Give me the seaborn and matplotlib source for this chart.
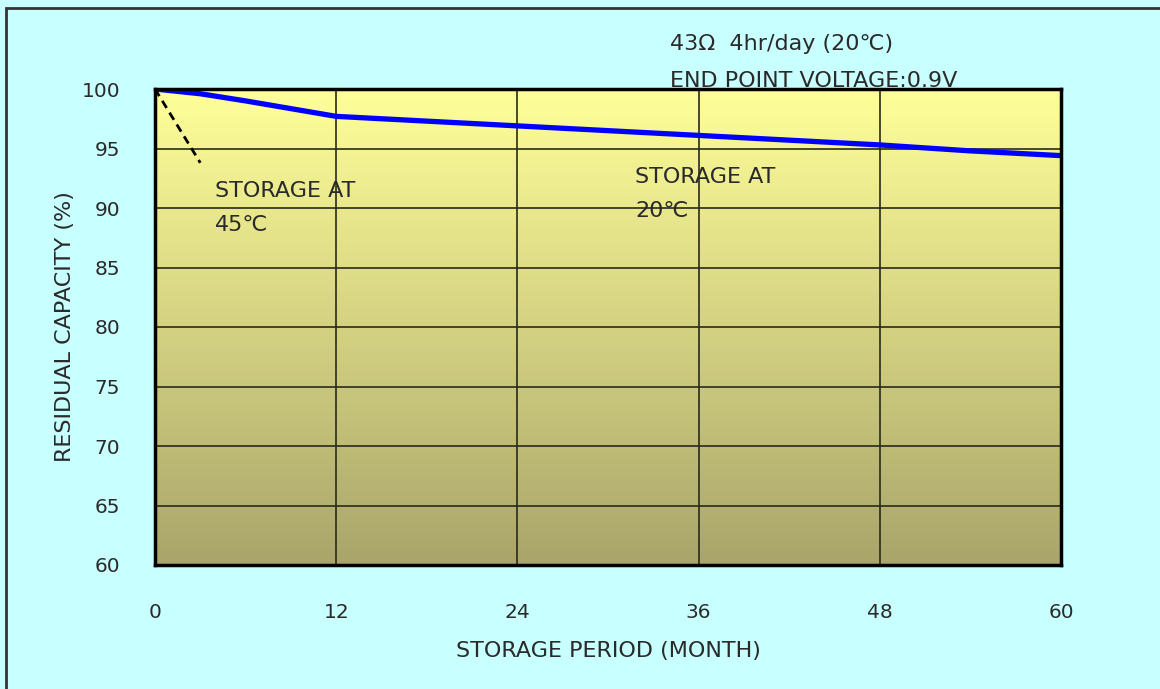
import numpy as np
import pandas as pd
import matplotlib
matplotlib.use("Agg")
import matplotlib.pyplot as plt
import matplotlib.patches as mpatches
from matplotlib.colors import LinearSegmentedColormap
import seaborn as sns

# ---------------- data ----------------
months_20c = [0, 3, 6, 12, 18, 24, 30, 36, 42, 48, 54, 60]
capacity_20c = [100, 99.6, 99.0, 97.7, 97.3, 96.9, 96.5, 96.1, 95.7, 95.3, 94.8, 94.4]
months_45c = [0, 3]
capacity_45c = [100, 93.8]
x_ticks = [0, 12, 24, 36, 48, 60]
y_ticks = [60, 65, 70, 75, 80, 85, 90, 95, 100]

sns.set_style("white")
plt.rcParams["font.family"] = ["DejaVu Sans"]

BG = "#C8FFFF"
TXT = "#2a2a2a"
fig = plt.figure(figsize=(11.6, 6.89), dpi=100, facecolor=BG)
ax = fig.add_axes([155 / 1160, 1 - 565 / 689, (1061 - 155) / 1160, (565 - 89) / 689])

# gradient plot area: pale yellow at top to olive at bottom
cmap = LinearSegmentedColormap.from_list("plotbg", ["#A9A56B", "#FFFF99"])
grad = np.linspace(0, 1, 256).reshape(-1, 1)
ax.imshow(grad, cmap=cmap, origin="lower", aspect="auto",
          extent=[0, 60, 60, 100], zorder=0)

df20 = pd.DataFrame({"month": months_20c, "cap": capacity_20c})
df45 = pd.DataFrame({"month": months_45c, "cap": capacity_45c})
sns.lineplot(data=df20, x="month", y="cap", ax=ax, color="#0000FF", lw=3.8, zorder=4)
sns.lineplot(data=df45, x="month", y="cap", ax=ax, color="black", lw=2,
             linestyle=(0, (3, 2)), zorder=4)

ax.set_xlim(0, 60)
ax.set_ylim(60, 100)
ax.set_xticks(x_ticks)
ax.set_yticks(y_ticks)
ax.grid(True, color="#2a2a1a", lw=1.2, zorder=2)
ax.set_axisbelow(False)
for line in ax.get_xgridlines() + ax.get_ygridlines():
    line.set_zorder(2)
for s in ax.spines.values():
    s.set_color("black")
    s.set_linewidth(2.5)
    s.set_zorder(5)

ax.tick_params(axis="both", length=0, labelsize=14.5, colors=TXT)
ax.tick_params(axis="x", pad=27)
ax.tick_params(axis="y", pad=25)
ax.set_xlabel("STORAGE PERIOD (MONTH)", fontsize=16, color=TXT, labelpad=14)
ax.set_ylabel("RESIDUAL CAPACITY (%)", fontsize=16, color=TXT, labelpad=5)

ax.text(4.0, 92.3, "STORAGE AT\n45℃", fontsize=16, color=TXT,
        va="top", ha="left", linespacing=1.9, zorder=6)
ax.text(31.8, 93.45, "STORAGE AT\n20℃", fontsize=16, color=TXT,
        va="top", ha="left", linespacing=1.9, zorder=6)

# header notes; the second one sits behind the plot area
fig.text(670 / 1160, 1 - 44 / 689, "43Ω  4hr/day (20℃)", fontsize=16,
         color=TXT, va="center", ha="left")
fig.text(670 / 1160, 1 - 81 / 689, "END POINT VOLTAGE:0.9V", fontsize=16,
         color=TXT, va="center", ha="left", zorder=-1)

# frame of the screenshot (top and left edges)
fig.add_artist(mpatches.Rectangle((6 / 1160, -0.1), 1.2, 1 - 8 / 689 + 0.1,
                                  transform=fig.transFigure, fill=False,
                                  edgecolor="#333333", lw=2, zorder=-2))

fig.savefig("out.png", dpi=100, facecolor=BG)
